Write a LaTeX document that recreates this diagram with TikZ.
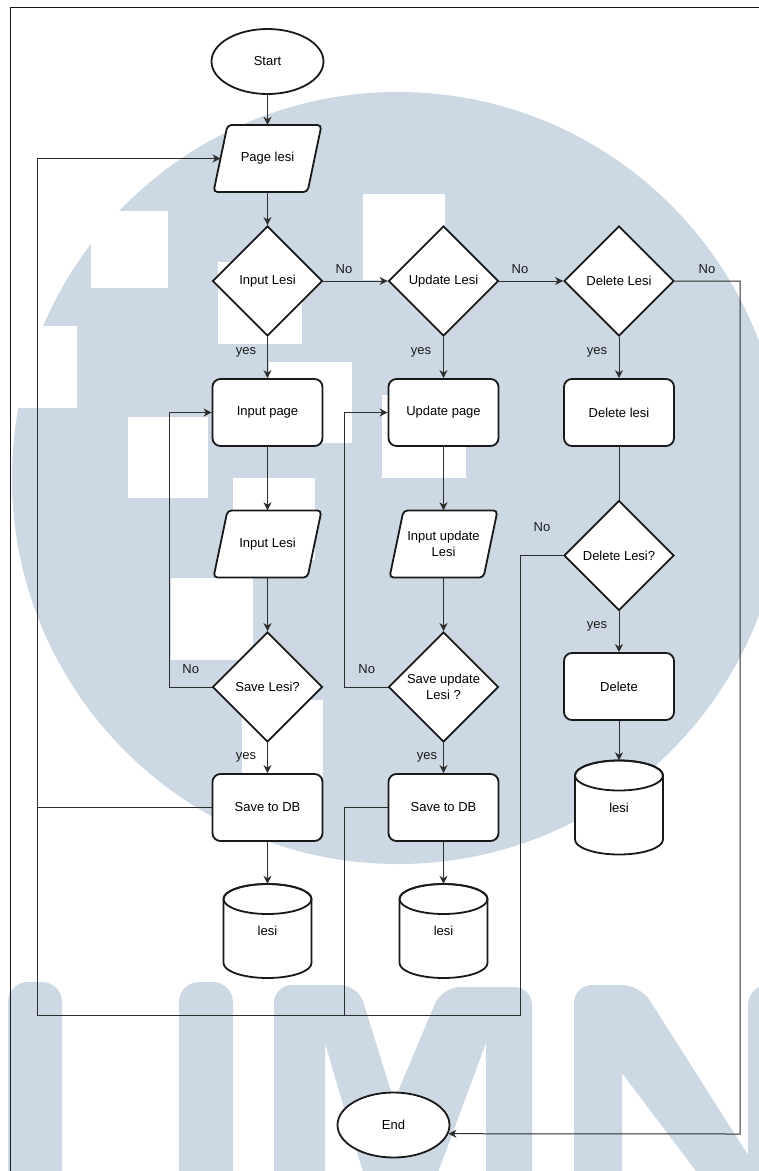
\documentclass[tikz,border=0pt]{standalone}
\usepackage{fontspec}
\setmainfont{Liberation Sans}
\usetikzlibrary{shapes.geometric,arrows.meta}
\definecolor{wmblue}{RGB}{204,216,227}
\definecolor{ink}{RGB}{25,25,25}
\definecolor{wire}{RGB}{45,45,45}
\newcommand\lblfont{\fontsize{13pt}{16pt}\selectfont}

\tikzset{
  outline/.style={draw=ink, line width=1.8pt, fill=white},
  term/.style={outline, ellipse, minimum width=112pt, minimum height=65pt, inner sep=0pt, font=\lblfont},
  proc/.style={outline, rectangle, rounded corners=8pt, minimum width=110pt, minimum height=67pt, inner sep=0pt, font=\lblfont},
  iotext/.style={rectangle, minimum width=94pt, minimum height=67pt, inner sep=0pt, align=center, font=\lblfont},
  decision/.style={outline, diamond, minimum width=110pt, minimum height=110pt, inner sep=0pt,
    align=center, font=\lblfont},
  store/.style={rectangle, minimum width=88pt, minimum height=94pt, inner sep=0pt, font=\lblfont},
  conn/.style={draw=wire, line width=1pt},
  arr/.style={conn, -{Stealth[length=8pt,width=8pt,inset=2.5pt]}},
  lbl/.style={font=\lblfont, text=ink, inner sep=0pt},
}

\begin{document}
\begin{tikzpicture}[x=1pt,y=-1pt]
\useasboundingbox (0,0) rectangle (759,1171);
\fill[white] (0,0) rectangle (759,1171);

% faded logo in the background
\begin{scope}
  \clip (0,0) rectangle (759,1171);
  \fill[wmblue] (398,478) circle[radius=386];
  \fill[white] (91,211) rectangle (168,288);
  \fill[white] (218,262) rectangle (302,344);
  \fill[white] (0,326) rectangle (77,408);
  \fill[white] (269,362) rectangle (352,443);
  \fill[white] (128,417) rectangle (208,498);
  \fill[white] (363,194) rectangle (445,280);
  \fill[white] (382,395) rectangle (466,478);
  \fill[white] (233,478) rectangle (315,560);
  \fill[white] (171,578) rectangle (253,660);
  \fill[white] (242,700) rectangle (323,782);
  % U
  \fill[wmblue, rounded corners=20pt] (8,982) rectangle (62,1240);
  \fill[wmblue, rounded corners=20pt] (179,982) rectangle (233,1240);
  % M
  \fill[wmblue] (274,1240) [rounded corners=18pt] -- (274,985) -- (358,985) [sharp corners]
    -- (394,1101) [rounded corners=18pt] -- (442,987) -- (532,987) [sharp corners]
    -- (532,1240) -- (486,1240) -- (486,1043) -- (413,1240) -- (383,1240)
    -- (325,1043) -- (325,1240) -- cycle;
  % N
  \fill[wmblue] (574,1240) [rounded corners=18pt] -- (574,985) -- (640,985) [sharp corners]
    -- (802,1240) -- (748,1240) -- (622,1073) -- (622,1240) -- cycle;
  \fill[wmblue, rounded corners=20pt] (748,985) rectangle (830,1240);
\end{scope}

% page frame
\draw[ink, line width=1.2pt] (10.7,1180) -- (10.7,7.3) -- (770,7.3);

% input/output parallelograms (outline first, labelled node on top)
\foreach \x/\y in {267.5/158.5, 267.5/544, 443.5/544}{
  \draw[outline, rounded corners=4pt] (\x-40,\y-33.5) -- (\x+54,\y-33.5)
    -- (\x+40,\y+33.5) -- (\x-54,\y+33.5) -- cycle;
}
\node[iotext] (page) at (267.5,158.5) {Page lesi};
\node[iotext] (inlesi) at (267.5,544) {Input Lesi};
\node[iotext] (upin) at (443.5,544) {Input update\\Lesi};
\coordinate (pageL) at (220.5,158.5);

% flow nodes
\node[term] (start) at (267.5,61.5) {Start};
\node[decision] (inq) at (267.5,281) {Input Lesi};
\node[decision] (upq) at (443.5,281) {Update Lesi};
\node[decision] (delq) at (619,281) {Delete Lesi};
\node[proc] (inpage) at (267.5,412.5) {Input page};
\node[proc] (uppage) at (443.5,412.5) {Update page};
\node[proc] (delbox) at (619,412.5) {Delete lesi};
\node[decision] (delq2) at (619,555.5) {Delete Lesi?};
\node[decision] (saveq) at (267.5,687) {Save Lesi?};
\node[decision] (upsaveq) at (443.5,687) {Save update\\Lesi ?};
\node[proc] (deletebox) at (619,686.5) {Delete};
\node[proc] (savedb) at (267.5,807.5) {Save to DB};
\node[proc] (upsavedb) at (443.5,807.5) {Save to DB};
\node[term] (end) at (393.5,1125) {End};

% database cylinders
\foreach \n/\x/\y in {db1/267.5/931, db2/443.5/931, db3/619/807.5}{
  \draw[outline] (\x-44,\y-32) -- (\x-44,\y+32)
    arc[start angle=180, end angle=360, x radius=44pt, y radius=15pt]
    -- (\x+44,\y-32) arc[start angle=0, end angle=180, x radius=44pt, y radius=15pt] -- cycle;
  \draw[draw=ink, line width=1.8pt] (\x,\y-32) ellipse[x radius=44pt, y radius=15pt];
  \node[store] (\n) at (\x,\y) {lesi};
}

% routing points
\coordinate (bl) at (37,1015.7);
\coordinate (br) at (520,1015.7);
\coordinate (rc) at (740,1134);
\coordinate (lp1) at (169,687);
\coordinate (lp2) at (344.5,687);
\coordinate (j2) at (344.5,1015.7);

% connectors
\draw[arr] (start) -- (page);
\draw[arr] (page) -- (inq);
\draw[arr] (inq) -- (upq);
\draw[arr] (upq) -- (delq);
\draw[arr] (delq.east) -| (rc) -- (end.-9.6);
\draw[arr] (inq) -- (inpage);
\draw[arr] (upq) -- (uppage);
\draw[arr] (delq) -- (delbox);
\draw[arr] (inpage) -- (inlesi);
\draw[arr] (inlesi) -- (saveq);
\draw[arr] (saveq.west) -- (lp1) |- (inpage.west);
\draw[arr] (saveq) -- (savedb);
\draw[arr] (savedb) -- (db1);
\draw[conn] (savedb.west) -- (savedb.west -| bl);
\draw[arr] (uppage) -- (upin);
\draw[arr] (upin) -- (upsaveq);
\draw[arr] (upsaveq.west) -- (lp2) |- (uppage.west);
\draw[arr] (upsaveq) -- (upsavedb);
\draw[arr] (upsavedb) -- (db2);
\draw[conn] (upsavedb.west) -| (j2);
\draw[conn] (delbox) -- (delq2);
\draw[arr] (delq2) -- (deletebox);
\draw[arr] (deletebox) -- (db3);
\draw[arr] (delq2.west) -| (br) -- (bl) |- (pageL);

% branch labels
\node[lbl] (no1) at (344,269) {No};
\node[lbl] (no2) at (520,269) {No};
\node[lbl] (no3) at (707,269) {No};
\node[lbl] (yes1) at (246,352) {yes};
\node[lbl] (yes2) at (421,352) {yes};
\node[lbl] (yes3) at (597,352) {yes};
\node[lbl] (no4) at (190.7,669) {No};
\node[lbl] (no5) at (366.7,669) {No};
\node[lbl] (yes4) at (246,757) {yes};
\node[lbl] (yes5) at (427,757) {yes};
\node[lbl] (no6) at (542,527) {No};
\node[lbl] (yes6) at (597,626) {yes};
\end{tikzpicture}
\end{document}
